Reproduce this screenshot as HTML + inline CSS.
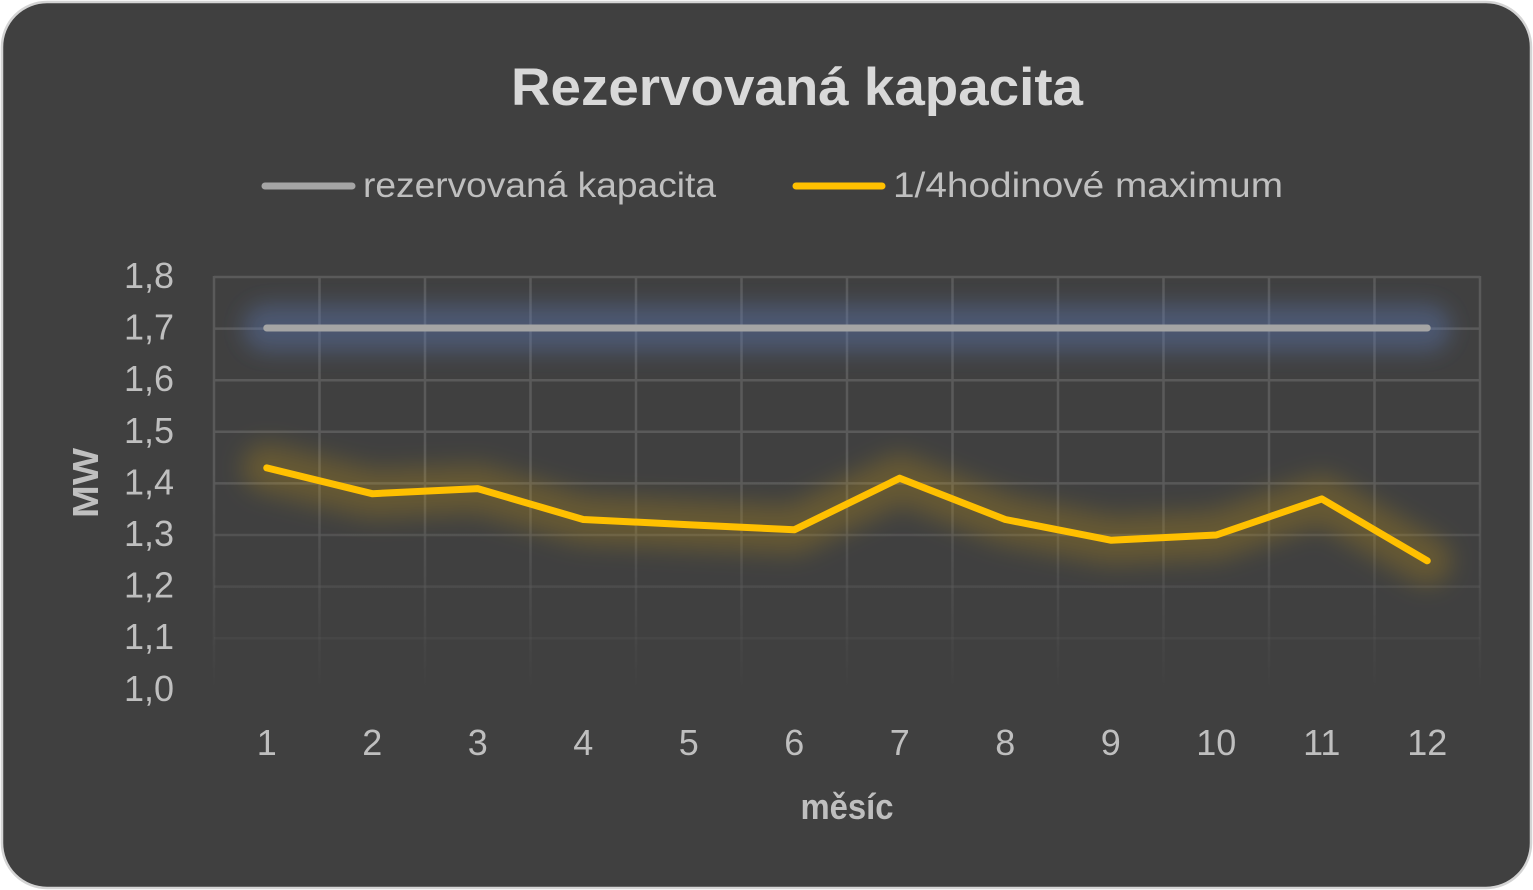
<!DOCTYPE html>
<html><head><meta charset="utf-8"><style>
html,body{margin:0;padding:0;background:#fff;width:1533px;height:890px;overflow:hidden}
svg{display:block}
</style></head><body>
<svg width="1533" height="890" viewBox="0 0 1533 890" xmlns="http://www.w3.org/2000/svg">
<defs>
<filter id="blurB" filterUnits="userSpaceOnUse" x="150" y="230" width="1400" height="200"><feGaussianBlur stdDeviation="11"/></filter>
<filter id="blurY" filterUnits="userSpaceOnUse" x="150" y="380" width="1400" height="280"><feGaussianBlur stdDeviation="12"/></filter>
<linearGradient id="fade" gradientUnits="userSpaceOnUse" x1="0" y1="470" x2="0" y2="690">
<stop offset="0" stop-color="#5a5a5a" stop-opacity="1"/>
<stop offset="1" stop-color="#5a5a5a" stop-opacity="0"/>
</linearGradient>
</defs>
<rect x="2" y="2" width="1529" height="886" rx="45" ry="45" fill="#404040" stroke="#d4d4d4" stroke-width="2.5"/>
<g font-family="'Liberation Sans', sans-serif" fill="#d9d9d9">
<text x="797" y="105" font-size="53" font-weight="bold" text-anchor="middle" textLength="572" lengthAdjust="spacingAndGlyphs">Rezervovaná kapacita</text>
</g>
<!-- legend -->
<line x1="265" y1="186" x2="352" y2="186" stroke="#a5a5a5" stroke-width="7" stroke-linecap="round"/>
<line x1="796" y1="186" x2="882" y2="186" stroke="#ffc000" stroke-width="7" stroke-linecap="round"/>
<g font-family="'Liberation Sans', sans-serif" fill="#bfbfbf" font-size="35">
<text x="363" y="197" textLength="353" lengthAdjust="spacingAndGlyphs">rezervovaná kapacita</text>
<text x="893" y="197" textLength="390" lengthAdjust="spacingAndGlyphs">1/4hodinové maximum</text>
</g>
<!-- grid -->
<g stroke="url(#fade)" stroke-width="2.5" fill="none">
<line x1="214" y1="277" x2="1480" y2="277"/>
<line x1="214" y1="328.6" x2="1480" y2="328.6"/>
<line x1="214" y1="380.2" x2="1480" y2="380.2"/>
<line x1="214" y1="431.8" x2="1480" y2="431.8"/>
<line x1="214" y1="483.4" x2="1480" y2="483.4"/>
<line x1="214" y1="535" x2="1480" y2="535"/>
<line x1="214" y1="586.6" x2="1480" y2="586.6"/>
<line x1="214" y1="638.2" x2="1480" y2="638.2"/>
<line x1="214" y1="690" x2="1480" y2="690"/>
</g>
<g stroke="url(#fade)" stroke-width="2.5" fill="none">
<line x1="214" y1="276" x2="214" y2="690"/>
<line x1="319.5" y1="276" x2="319.5" y2="690"/>
<line x1="425" y1="276" x2="425" y2="690"/>
<line x1="530.5" y1="276" x2="530.5" y2="690"/>
<line x1="636" y1="276" x2="636" y2="690"/>
<line x1="741.5" y1="276" x2="741.5" y2="690"/>
<line x1="847" y1="276" x2="847" y2="690"/>
<line x1="952.5" y1="276" x2="952.5" y2="690"/>
<line x1="1058" y1="276" x2="1058" y2="690"/>
<line x1="1163.5" y1="276" x2="1163.5" y2="690"/>
<line x1="1269" y1="276" x2="1269" y2="690"/>
<line x1="1374.5" y1="276" x2="1374.5" y2="690"/>
<line x1="1480" y1="276" x2="1480" y2="690"/>
</g>
<!-- glows -->
<rect x="243" y="304" width="1208" height="48" rx="24" fill="#5f7fbf" fill-opacity="0.38" filter="url(#blurB)"/>
<polyline points="266.75,467.9 372.25,493.7 477.75,488.6 583.25,519.5 688.75,524.7 794.25,529.8 899.75,478.2 1005.25,519.5 1110.75,540.2 1216.25,535 1321.75,498.9 1427.25,560.8" fill="none" stroke="#ffc000" stroke-opacity="0.2" stroke-width="48" stroke-linejoin="round" stroke-linecap="round" filter="url(#blurY)"/>
<!-- series -->
<line x1="266.75" y1="328" x2="1427.25" y2="328" stroke="#a5a5a5" stroke-width="7" stroke-linecap="round"/>
<polyline points="266.75,467.9 372.25,493.7 477.75,488.6 583.25,519.5 688.75,524.7 794.25,529.8 899.75,478.2 1005.25,519.5 1110.75,540.2 1216.25,535 1321.75,498.9 1427.25,560.8" fill="none" stroke="#ffc000" stroke-width="7" stroke-linejoin="round" stroke-linecap="round"/>
<!-- y labels -->
<g font-family="'Liberation Sans', sans-serif" fill="#bfbfbf" font-size="36" text-anchor="end">
<text x="174" y="288">1,8</text>
<text x="174" y="339.6">1,7</text>
<text x="174" y="391.2">1,6</text>
<text x="174" y="442.8">1,5</text>
<text x="174" y="494.4">1,4</text>
<text x="174" y="546">1,3</text>
<text x="174" y="597.6">1,2</text>
<text x="174" y="649.2">1,1</text>
<text x="174" y="701">1,0</text>
</g>
<!-- x labels -->
<g font-family="'Liberation Sans', sans-serif" fill="#bfbfbf" font-size="36" text-anchor="middle">
<text x="266.75" y="755">1</text>
<text x="372.25" y="755">2</text>
<text x="477.75" y="755">3</text>
<text x="583.25" y="755">4</text>
<text x="688.75" y="755">5</text>
<text x="794.25" y="755">6</text>
<text x="899.75" y="755">7</text>
<text x="1005.25" y="755">8</text>
<text x="1110.75" y="755">9</text>
<text x="1216.25" y="755">10</text>
<text x="1321.75" y="755">11</text>
<text x="1427.25" y="755">12</text>
</g>
<g font-family="'Liberation Sans', sans-serif" fill="#bfbfbf" font-weight="bold" font-size="36">
<text x="847" y="819" text-anchor="middle" textLength="93" lengthAdjust="spacingAndGlyphs">měsíc</text>
<text transform="translate(98,483) rotate(-90)" text-anchor="middle" textLength="70" lengthAdjust="spacingAndGlyphs">MW</text>
</g>
</svg>
</body></html>
